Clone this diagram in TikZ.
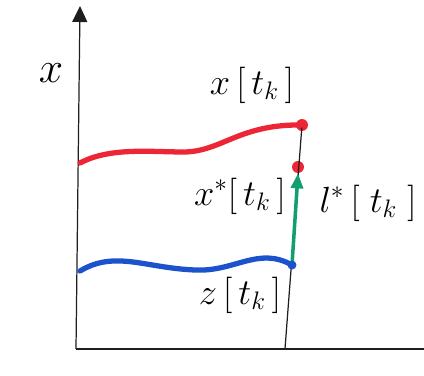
\documentclass[tikz,border=0pt]{standalone}
\usepackage{amsmath}
\usepackage{tikz}
\usetikzlibrary{arrows.meta,positioning}
\definecolor{redpen}{RGB}{236,38,52}
\definecolor{bluepen}{RGB}{28,82,204}
\definecolor{greenpen}{RGB}{18,158,112}
\definecolor{axisink}{RGB}{30,30,30}
\tikzset{
  axisline/.style ={draw=axisink, line width=0.7pt},
  pen/.style      ={line width=3pt, line cap=round},
  dot/.style      ={circle, fill=redpen, inner sep=0pt, minimum size=0.24cm},
  lbl/.style      ={font=\fontsize{22}{26}\selectfont, inner sep=1pt},
  flow/.style     ={-{Triangle[length=3mm, width=2.4mm]}, line width=2pt, draw=greenpen}
}

\begin{document}
\begin{tikzpicture}[x=0.02cm, y=-0.02cm]
  \useasboundingbox (0,0) rectangle (424,376);
  % axes
  \coordinate (org) at (76,349);
  \coordinate (ytop) at (80,6);
  \coordinate (xend) at (424,349);
  \draw[axisline, -{Triangle[length=3.2mm, width=3mm]}] (org) -- (ytop);
  \draw[axisline] (org) -- (xend);
  \node[font=\fontsize{26}{30}\selectfont] (ylbl) at (51,73) {$x$};
  % sample time
  \node[dot] (xk) at (302,125) {};
  \node[dot] (xs) at (298,167) {};
  \coordinate (zk) at (292,265);
  \coordinate (tk) at (285,349);
  \draw[axisline] (xk.center) -- (tk);
  % trajectories
  \coordinate (xa) at (80,163);
  \coordinate (za) at (80,271);
  \draw[pen, redpen] (xa) .. controls (110,147) and (150,152) .. (185,152)
    .. controls (222,151) and (240,124) .. (xk.center);
  \draw[pen, bluepen] (za) .. controls (115,250) and (145,268) .. (195,270)
    .. controls (235,272) and (258,246) .. (zk);
  \draw[flow] (zk) -- (xs.south);
  \fill[bluepen] (zk) circle (0.09cm);
  % labels
  \node[lbl] (xklbl) at (252,85) {$x\,[\,t_k\,]$};
  \node[lbl] (xslbl) at (240,196) {$x^*[\,t_k\,]$};
  \node[lbl] (llbl) at (368,203) {$l^*\,[\;t_k\;]$};
  \node[lbl] (zlbl) at (240,295) {$z\,[\,t_k\,]$};
\end{tikzpicture}
\end{document}
